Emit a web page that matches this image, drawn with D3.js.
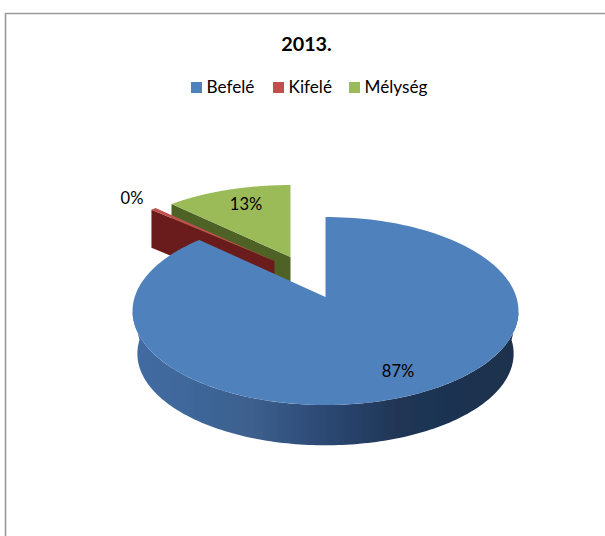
<!DOCTYPE html>
<html><head><meta charset="utf-8">
<script src="https://cdn.jsdelivr.net/npm/d3@7/dist/d3.min.js"></script>
<style>html,body{margin:0;padding:0;background:#fff}svg{display:block}text{font-family:Lato,"Open Sans",sans-serif;fill:#000}</style>
</head><body><svg id="c" width="605" height="536"></svg>
<script>
const title = "2013.";
const categories = ["Befelé", "Kifelé", "Mélység"];
const values = [87, 0.5, 12.5];
const labels = ["87%", "0%", "13%"];
const colors = ["#4f81bd", "#c0504d", "#9bbb59"];
const wallColors = ["#2d4a73", "#6b1f1b", "#4f6228"];

const svg = d3.select("#c");
svg.append("path").attr("d","M5.5 536V13.5H605").attr("fill","none").attr("stroke","#9a9a9a").attr("stroke-width",1.6);

const defs = svg.append("defs");
const g = defs.append("linearGradient").attr("id","wall").attr("gradientUnits","userSpaceOnUse")
  .attr("x1",133).attr("x2",519).attr("y1",0).attr("y2",0);
[[0,"#406ca3"],[.3,"#3d618f"],[.5,"#2c4873"],[.68,"#203656"],[1,"#1b2f4c"]].forEach(s=>g.append("stop").attr("offset",s[0]).attr("stop-color",s[1]));
defs.append("filter").attr("id","soft").append("feGaussianBlur").attr("stdDeviation",0.6);

const arcs = d3.pie().sort(null).value(d=>d)(values);

// Tilted-disc projection of each slice: apex position, half axes, perspective k, wall depth
const geom = [
  {x:325.5, y:297, A:190.8, b:91.9, k:.149, depth:43, shrink:.975},
  {x:274.5, y:261, A:186,   b:82.7, k:.149, depth:38, shrink:1},
  {x:290.5, y:257, A:186,   b:82.7, k:.149, depth:38, shrink:1}
];
const project = (p,t,s=1,dy=0)=>{
  const w = 1 + p.k*Math.cos(t);
  return [p.x + s*p.A*Math.sin(t)/w, p.y + dy - s*p.b*Math.cos(t)/w];
};
const line = d3.line();
const sweep = (t0,t1,n=160)=>d3.range(n+1).map(i=>t0+(t1-t0)*i/n);
const topPath = (p,a)=>line([[p.x,p.y],...sweep(a.startAngle,a.endAngle).map(t=>project(p,t))])+"Z";

const chart = svg.append("g").attr("filter","url(#soft)");

// back pieces first: green, red, then blue
[2,1].forEach(i=>{
  const p = geom[i], a = arcs[i], s = project(p,a.startAngle);
  chart.append("path").attr("fill",wallColors[i])
    .attr("d", line([[p.x,p.y],s,[s[0],s[1]+p.depth],[p.x,p.y+p.depth]])+"Z");
  chart.append("path").attr("fill",colors[i]).attr("d",topPath(p,a));
});

// blue wall: outer edge of the disc, pulled in slightly at the bottom rim
const pb = geom[0], ab = arcs[0];
const wallT = sweep(Math.PI*0.55, Math.PI*1.45);
const bottomT = sweep(Math.PI*0.5, Math.PI*1.5);
chart.append("path").attr("fill","url(#wall)")
  .attr("d", line([...wallT.map(t=>project(pb,t)), ...bottomT.slice().reverse().map(t=>project(pb,t,pb.shrink,pb.depth))])+"Z");
chart.append("path").attr("fill",colors[0]).attr("d",topPath(pb,ab));

// title + legend
svg.append("text").attr("x",306.5).attr("y",50.5).attr("text-anchor","middle").attr("font-size",19.8).attr("font-weight",700).text(title);
const legendX = d3.scaleOrdinal().domain(categories).range([191,273,349]);
const leg = svg.append("g").selectAll("g").data(categories).join("g").attr("transform",d=>`translate(${legendX(d)},0)`);
leg.append("rect").attr("y",82).attr("width",11).attr("height",11).attr("fill",(d,i)=>colors[i]);
leg.append("text").attr("x",15.5).attr("y",93).attr("font-size",17.2).text(d=>d);

// data labels
const labelPos = [[132,198],[398,371],[246,204]];
const labelIdx = [1,0,2];
svg.append("g").selectAll("text").data(labelIdx).join("text")
  .attr("x",(d,i)=>labelPos[i][0]).attr("y",(d,i)=>labelPos[i][1]+5.5)
  .attr("text-anchor","middle").attr("font-size",16.5).text(d=>labels[d]);
</script></body></html>
